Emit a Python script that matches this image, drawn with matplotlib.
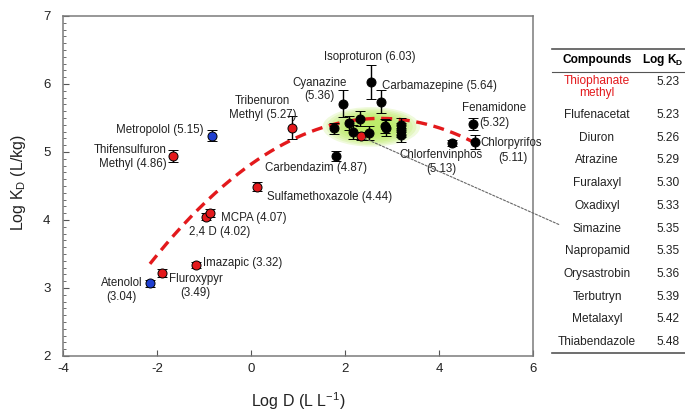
import numpy as np
import matplotlib
matplotlib.use('Agg')
import matplotlib.pyplot as plt
from matplotlib.patches import Ellipse, ConnectionPatch
from matplotlib.ticker import MultipleLocator

plt.rcParams['font.family'] = ['Liberation Sans', 'DejaVu Sans']
plt.rcParams['mathtext.fontset'] = 'custom'
plt.rcParams['mathtext.rm'] = 'Liberation Sans'
plt.rcParams['mathtext.it'] = 'Liberation Sans:italic'
plt.rcParams['mathtext.bf'] = 'Liberation Sans:bold'
plt.rcParams['axes.unicode_minus'] = False

# data
log_d = [-2.15, -1.90, -1.16, -0.95, -0.88, 0.12, -1.66, -0.82, 0.88,
         1.81, 1.95, 2.56, 2.77, 4.73, 4.77, 4.28,
         1.77, 2.09, 2.32, 2.18, 2.35, 2.52, 2.86, 2.88, 3.20, 3.20, 3.20]
log_kd = [3.07, 3.22, 3.34, 4.05, 4.10, 4.49, 4.94, 5.24, 5.36,
          4.94, 5.71, 6.03, 5.74, 5.41, 5.15, 5.13,
          5.35, 5.43, 5.49, 5.29, 5.24, 5.28, 5.38, 5.35, 5.40, 5.32, 5.25]
kd_err = [0.05, 0.06, 0.04, 0.05, 0.06, 0.07, 0.09, 0.08, 0.17,
          0.07, 0.20, 0.25, 0.17, 0.09, 0.10, 0.04,
          0.08, 0.10, 0.11, 0.10, 0.06, 0.10, 0.10, 0.12, 0.10, 0.10, 0.10]
group = ['cation', 'anion', 'anion', 'anion', 'anion', 'anion', 'anion', 'cation', 'anion',
         'neutral', 'neutral', 'neutral', 'neutral', 'neutral', 'neutral', 'neutral',
         'neutral', 'neutral', 'neutral', 'neutral', 'anion', 'neutral', 'neutral',
         'neutral', 'neutral', 'neutral', 'neutral']

# quadratic fit drawn in the figure: y = a + b x + c x^2
fit_coef = [4.82, 0.49, -0.089]
fit_range = [-2.15, 4.75]

table_compounds = ['Thiophanate\nmethyl', 'Flufenacetat', 'Diuron', 'Atrazine', 'Furalaxyl',
                   'Oxadixyl', 'Simazine', 'Napropamid', 'Orysastrobin', 'Terbutryn',
                   'Metalaxyl', 'Thiabendazole']
table_logk = ['5.23', '5.23', '5.26', '5.29', '5.30', '5.33', '5.35', '5.35', '5.36',
              '5.39', '5.42', '5.48']

colors = {'anion': '#e3191c', 'cation': '#1f3fd0', 'neutral': 'black'}

fig = plt.figure(figsize=(6.85, 4.12), dpi=100)
ax = fig.add_axes([63/685, 1 - 356/412, 470/685, 340/412])

# green glow behind the cluster
for s in np.linspace(1.12, 0.45, 9):
    ax.add_patch(Ellipse((2.56, 5.37), 1.85*s, 0.52*s, facecolor='#b4ea55',
                         edgecolor='none', alpha=0.2, zorder=1))

xf = np.linspace(fit_range[0], fit_range[1], 200)
yf = fit_coef[0] + fit_coef[1]*xf + fit_coef[2]*xf**2
ax.plot(xf, yf, color='#e3191c', lw=2.4, ls=(0, (3.3, 2)), zorder=2)

for x, y, e, g in zip(log_d, log_kd, kd_err, group):
    ax.errorbar(x, y, yerr=e, fmt='o', color='black', ms=6.5, mfc=colors[g],
                mec='black', mew=0.7, elinewidth=1, capsize=3.5, capthick=1, zorder=3)

fs = 8.3
lab = dict(fontsize=fs, color='#222222', va='center')
ax.text(2.52, 6.40, 'Isoproturon (6.03)', ha='center', **lab)
ax.text(1.45, 5.92, 'Cyanazine\n(5.36)', ha='center', multialignment='center', **lab)
ax.text(2.79, 5.97, 'Carbamazepine (5.64)', ha='left', **lab)
ax.text(0.24, 5.65, 'Tribenuron\nMethyl (5.27)', ha='center', multialignment='center', **lab)
ax.text(-1.01, 5.32, 'Metropolol (5.15)', ha='right', **lab)
ax.text(-1.79, 4.93, 'Thifensulfuron\nMethyl (4.86)', ha='right', multialignment='right', **lab)
ax.text(0.29, 4.76, 'Carbendazim (4.87)', ha='left', **lab)
ax.text(0.33, 4.34, 'Sulfamethoxazole (4.44)', ha='left', **lab)
ax.text(-0.63, 4.03, 'MCPA (4.07)', ha='left', **lab)
ax.text(-1.31, 3.82, '2,4 D (4.02)', ha='left', **lab)
ax.text(-1.03, 3.37, 'Imazapic (3.32)', ha='left', **lab)
ax.text(-1.18, 3.03, 'Fluroxypyr\n(3.49)', ha='center', multialignment='center', **lab)
ax.text(-2.75, 2.97, 'Atenolol\n(3.04)', ha='center', multialignment='center', **lab)
ax.text(5.17, 5.65, 'Fenamidone', ha='center', **lab)
ax.text(4.85, 5.43, '(5.32)', ha='left', **lab)
ax.text(4.89, 5.13, 'Chlorpyrifos', ha='left', **lab)
ax.text(5.57, 4.91, '(5.11)', ha='center', **lab)
ax.text(4.04, 4.85, 'Chlorfenvinphos\n(5.13)', ha='center', multialignment='center', **lab)

ax.set_xlim(-4, 6)
ax.set_ylim(2, 7)
ax.xaxis.set_major_locator(MultipleLocator(2))
ax.yaxis.set_major_locator(MultipleLocator(1))
ax.yaxis.set_minor_locator(MultipleLocator(0.1))
ax.tick_params(axis='both', which='both', direction='in', colors='#555555',
               labelcolor='#222222', labelsize=9.5)
ax.tick_params(axis='y', which='major', length=4, pad=9)
ax.tick_params(axis='y', which='minor', length=2.2)
ax.tick_params(axis='x', which='major', length=4, pad=5)
for sp in ax.spines.values():
    sp.set_color('#7a7a7a')
    sp.set_linewidth(1.1)

ax.set_xlabel('Log D (L L$^{-1}$)', fontsize=11.5, color='#222222')
ax.xaxis.set_label_coords(0.5, -0.102)
ax.set_ylabel('Log K$_\\mathrm{D}$ (L/kg)', fontsize=11.5, color='#222222')
ax.yaxis.set_label_coords(-0.074, 0.51)

# dotted pointer from thiophanate methyl to the table
con = ConnectionPatch(xyA=(2.42, 5.2), coordsA='data', axesA=ax,
                      xyB=(560, 412 - 225), coordsB='figure pixels',
                      ls=(0, (2, 1.5)), lw=0.8, color='#666666', zorder=5)
fig.add_artist(con)

# table at the right
def fp(x, y):
    return x / 685, 1 - y / 412

for y, lw in [(49, 1.2), (72, 0.8), (353, 1.2)]:
    fig.add_artist(plt.Line2D([552/685, 1], [fp(0, y)[1]] * 2, color='#555555', lw=lw))

tfs = 8.6
fig.text(*fp(597, 60), 'Compounds', ha='center', va='center', fontsize=tfs, weight='bold')
fig.text(*fp(683, 60), 'Log K$_\\mathbf{D}$', ha='right', va='center', fontsize=tfs, weight='bold')
row_y = [87] + [115 + 22.7 * i for i in range(11)]
for i, (c, v) in enumerate(zip(table_compounds, table_logk)):
    col = '#e3191c' if i == 0 else '#222222'
    fig.text(*fp(597, row_y[i]), c, ha='center', va='center', fontsize=tfs, color=col,
             linespacing=1.1)
    fig.text(*fp(668, 82 if i == 0 else row_y[i]), v, ha='center', va='center',
             fontsize=tfs, color='#222222')

fig.savefig('out.png', dpi=100)
